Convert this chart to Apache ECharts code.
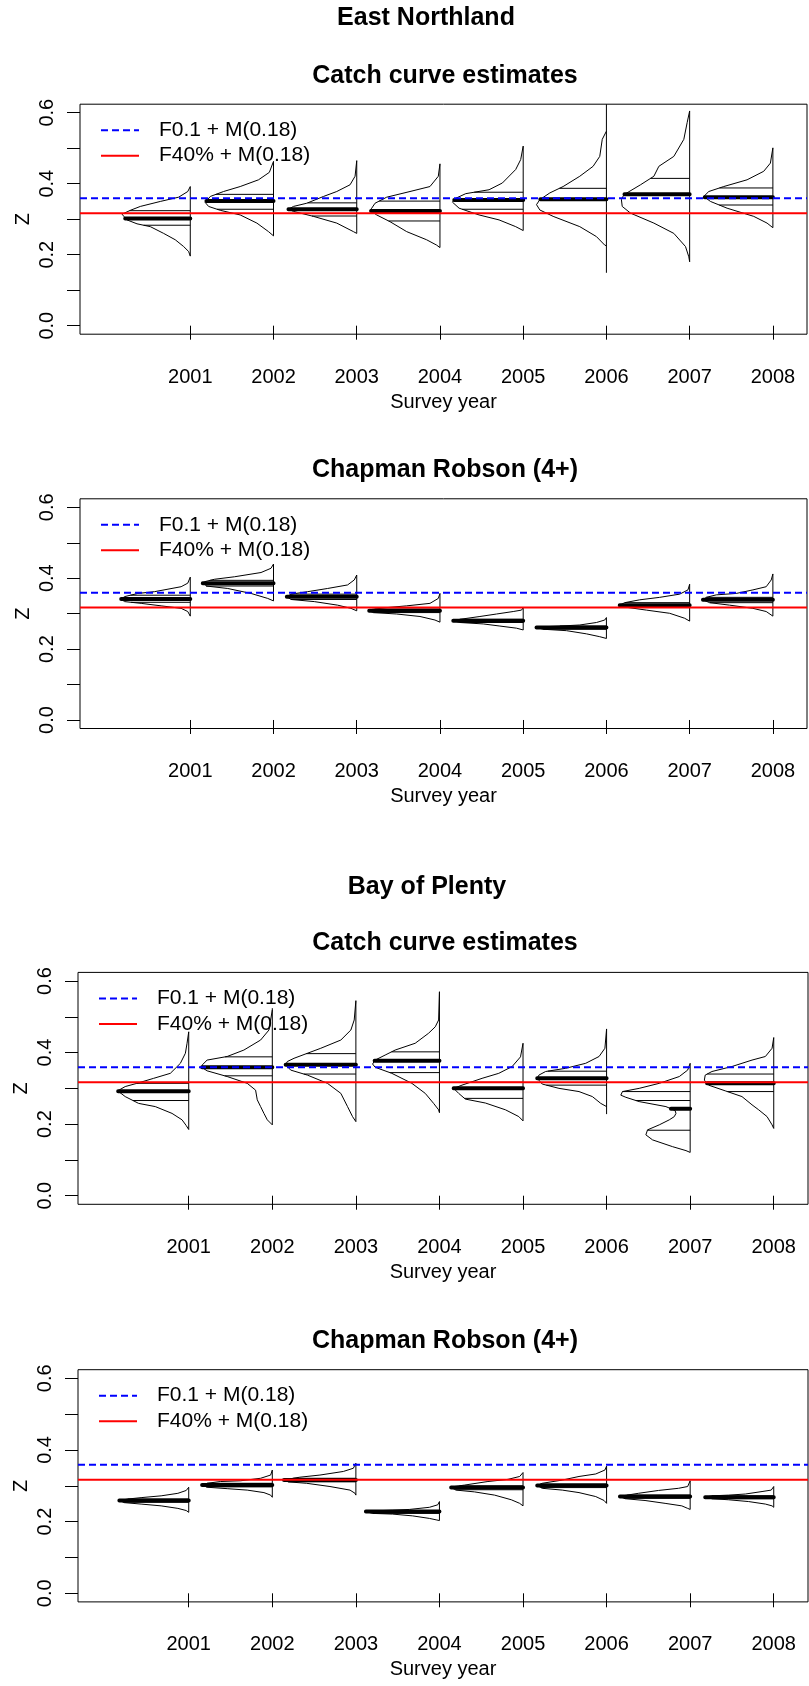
<!DOCTYPE html>
<html>
<head>
<meta charset="utf-8">
<script src="https://cdn.jsdelivr.net/npm/echarts@6.0.0/dist/echarts.min.js"></script>
<style>
  html, body { margin: 0; padding: 0; background: #fff; }
  #main { width: 809px; height: 1686px; }
</style>
</head>
<body>
<div id="main"></div>
<script>
// x categories and y ticks
const years = [2001, 2002, 2003, 2004, 2005, 2006, 2007, 2008];
const yTicks = [0, 0.1, 0.2, 0.3, 0.4, 0.5, 0.6];
const yLabels = [0, 0.2, 0.4, 0.6];

// reference levels
const refNames = ['F0.1 + M(0.18)', 'F40% + M(0.18)'];
const refValues = [0.359, 0.317];

// East Northland - catch curve: density outline (z, width in years), line range, median, other quantiles
const enCatchZ = [
  [0.392, 0.378, 0.362, 0.350, 0.336, 0.325, 0.314, 0.309, 0.298, 0.287, 0.279, 0.260, 0.242, 0.223, 0.209, 0.196],
  [0.463, 0.432, 0.411, 0.392, 0.378, 0.364, 0.347, 0.336, 0.325, 0.312, 0.289, 0.265, 0.253],
  [0.465, 0.421, 0.397, 0.378, 0.364, 0.345, 0.336, 0.328, 0.322, 0.308, 0.289, 0.265, 0.260],
  [0.456, 0.421, 0.392, 0.378, 0.362, 0.345, 0.331, 0.325, 0.312, 0.293, 0.265, 0.242, 0.227, 0.220],
  [0.506, 0.468, 0.440, 0.402, 0.383, 0.372, 0.359, 0.348, 0.331, 0.312, 0.298, 0.279, 0.268],
  [0.548, 0.525, 0.477, 0.449, 0.421, 0.392, 0.374, 0.355, 0.341, 0.326, 0.308, 0.279, 0.251, 0.227, 0.225],
  [0.605, 0.572, 0.525, 0.477, 0.449, 0.421, 0.397, 0.369, 0.355, 0.336, 0.317, 0.289, 0.260, 0.223, 0.194, 0.180],
  [0.501, 0.458, 0.435, 0.411, 0.392, 0.378, 0.364, 0.350, 0.331, 0.308, 0.289, 0.276]
];
const enCatchW = [
  [0, 0.03, 0.14, 0.36, 0.60, 0.72, 0.82, 0.82, 0.76, 0.64, 0.48, 0.32, 0.18, 0.08, 0.02, 0],
  [0, 0.05, 0.18, 0.40, 0.60, 0.76, 0.82, 0.78, 0.64, 0.40, 0.20, 0.06, 0],
  [0, 0.02, 0.08, 0.24, 0.40, 0.60, 0.76, 0.82, 0.76, 0.52, 0.24, 0.04, 0],
  [0, 0.02, 0.12, 0.36, 0.64, 0.78, 0.82, 0.84, 0.76, 0.60, 0.40, 0.16, 0.04, 0],
  [0, 0.03, 0.09, 0.25, 0.41, 0.69, 0.81, 0.85, 0.77, 0.53, 0.29, 0.09, 0],
  [0, 0.05, 0.08, 0.16, 0.32, 0.52, 0.68, 0.80, 0.84, 0.80, 0.64, 0.32, 0.12, 0.02, 0],
  [0, 0.03, 0.07, 0.19, 0.37, 0.43, 0.59, 0.79, 0.82, 0.81, 0.71, 0.43, 0.19, 0.05, 0.01, 0],
  [0, 0.03, 0.11, 0.31, 0.59, 0.77, 0.83, 0.75, 0.55, 0.23, 0.07, 0]
];
const enCatchRange = [[0.196, 0.392], [0.253, 0.463], [0.260, 0.465], [0.220, 0.456], [0.268, 0.506], [0.149, 0.624], [0.180, 0.605], [0.276, 0.501]];
const enCatchMedian = [0.302, 0.351, 0.328, 0.323, 0.354, 0.356, 0.370, 0.362];
const enCatchQuant = [[0.324, 0.283], [0.370, 0.328], [0.346, 0.309], [0.351, 0.295], [0.376, 0.328], [0.387, 0.317], [0.415], [0.388, 0.340]];

// East Northland - Chapman Robson
const enChapZ = [
  [0.403, 0.386, 0.376, 0.362, 0.357, 0.348, 0.341, 0.334, 0.329, 0.322, 0.315, 0.306, 0.293],
  [0.440, 0.428, 0.416, 0.404, 0.397, 0.390, 0.386, 0.378, 0.371, 0.357, 0.343, 0.336],
  [0.409, 0.395, 0.381, 0.371, 0.362, 0.355, 0.348, 0.340, 0.334, 0.324, 0.315, 0.308],
  [0.357, 0.343, 0.329, 0.322, 0.317, 0.312, 0.308, 0.303, 0.299, 0.292, 0.282, 0.276],
  [0.317, 0.310, 0.306, 0.299, 0.292, 0.284, 0.280, 0.275, 0.271, 0.265, 0.259, 0.254],
  [0.289, 0.282, 0.275, 0.268, 0.265, 0.263, 0.261, 0.256, 0.252, 0.243, 0.235, 0.230],
  [0.383, 0.367, 0.355, 0.346, 0.339, 0.331, 0.324, 0.318, 0.310, 0.301, 0.287, 0.279],
  [0.412, 0.395, 0.376, 0.367, 0.357, 0.353, 0.346, 0.339, 0.331, 0.324, 0.315, 0.306, 0.293]
];
const enChapW = [
  [0, 0.03, 0.11, 0.43, 0.63, 0.79, 0.83, 0.79, 0.59, 0.35, 0.11, 0.03, 0],
  [0, 0.03, 0.15, 0.47, 0.71, 0.83, 0.85, 0.81, 0.55, 0.27, 0.07, 0],
  [0, 0.03, 0.11, 0.35, 0.59, 0.79, 0.84, 0.79, 0.51, 0.23, 0.07, 0],
  [0, 0.02, 0.12, 0.40, 0.64, 0.82, 0.85, 0.80, 0.52, 0.24, 0.06, 0],
  [0, 0.02, 0.12, 0.32, 0.52, 0.76, 0.84, 0.76, 0.48, 0.28, 0.08, 0],
  [0, 0.02, 0.12, 0.32, 0.56, 0.76, 0.84, 0.76, 0.48, 0.24, 0.08, 0],
  [0, 0.02, 0.12, 0.36, 0.60, 0.78, 0.84, 0.76, 0.52, 0.24, 0.06, 0],
  [0, 0.02, 0.08, 0.24, 0.44, 0.68, 0.80, 0.84, 0.76, 0.52, 0.24, 0.08, 0]
];
const enChapRange = [[0.293, 0.403], [0.336, 0.440], [0.308, 0.409], [0.276, 0.357], [0.254, 0.317], [0.230, 0.289], [0.279, 0.383], [0.293, 0.412]];
const enChapMedian = [0.341, 0.386, 0.348, 0.308, 0.280, 0.261, 0.324, 0.339];
const enChapQuant = [[0.352, 0.332], [0.394, 0.378], [0.355, 0.340], [0.313, 0.303], [0.284, 0.275], [0.265, 0.256], [0.331, 0.318], [0.346, 0.331]];

// Bay of Plenty - catch curve
const bopCatchZ = [
  [0.458, 0.426, 0.398, 0.370, 0.342, 0.328, 0.314, 0.305, 0.293, 0.277, 0.258, 0.249, 0.230, 0.212, 0.196, 0.185],
  [0.519, 0.463, 0.435, 0.407, 0.389, 0.379, 0.365, 0.358, 0.349, 0.333, 0.314, 0.295, 0.268, 0.249, 0.230, 0.212, 0.198],
  [0.545, 0.491, 0.463, 0.435, 0.412, 0.398, 0.384, 0.375, 0.366, 0.351, 0.337, 0.314, 0.286, 0.249, 0.221, 0.207],
  [0.570, 0.491, 0.472, 0.454, 0.426, 0.407, 0.393, 0.379, 0.368, 0.359, 0.342, 0.314, 0.286, 0.258, 0.240, 0.232],
  [0.426, 0.388, 0.361, 0.342, 0.328, 0.309, 0.300, 0.286, 0.270, 0.259, 0.240, 0.221, 0.209],
  [0.466, 0.412, 0.389, 0.370, 0.356, 0.347, 0.337, 0.328, 0.312, 0.300, 0.291, 0.277, 0.258, 0.249],
  [0.370, 0.351, 0.333, 0.314, 0.300, 0.291, 0.281, 0.275, 0.263, 0.249, 0.238, 0.230, 0.221, 0.212, 0.198, 0.184, 0.170, 0.156, 0.137, 0.126, 0.121],
  [0.442, 0.412, 0.389, 0.379, 0.361, 0.347, 0.337, 0.323, 0.309, 0.293, 0.277, 0.254, 0.240, 0.221, 0.198, 0.188]
];
const bopCatchW = [
  [0, 0.02, 0.04, 0.10, 0.22, 0.42, 0.62, 0.76, 0.85, 0.76, 0.60, 0.40, 0.20, 0.08, 0.03, 0],
  [0, 0.04, 0.14, 0.34, 0.54, 0.78, 0.84, 0.84, 0.78, 0.54, 0.30, 0.20, 0.18, 0.14, 0.10, 0.06, 0],
  [0, 0.02, 0.06, 0.18, 0.42, 0.58, 0.74, 0.82, 0.84, 0.78, 0.58, 0.34, 0.18, 0.10, 0.04, 0],
  [0, 0.01, 0.05, 0.13, 0.29, 0.53, 0.65, 0.77, 0.80, 0.77, 0.57, 0.33, 0.17, 0.07, 0.01, 0],
  [0, 0.03, 0.13, 0.29, 0.49, 0.73, 0.83, 0.77, 0.69, 0.45, 0.21, 0.05, 0],
  [0, 0.02, 0.09, 0.25, 0.49, 0.73, 0.81, 0.83, 0.77, 0.57, 0.33, 0.17, 0.07, 0],
  [0, 0.03, 0.13, 0.37, 0.61, 0.81, 0.83, 0.77, 0.61, 0.29, 0.18, 0.17, 0.19, 0.25, 0.37, 0.51, 0.53, 0.45, 0.21, 0.05, 0],
  [0, 0.02, 0.10, 0.26, 0.50, 0.74, 0.82, 0.83, 0.78, 0.58, 0.38, 0.26, 0.18, 0.08, 0.02, 0]
];
const bopCatchRange = [[0.185, 0.458], [0.198, 0.524], [0.207, 0.545], [0.232, 0.570], [0.209, 0.426], [0.228, 0.466], [0.121, 0.370], [0.188, 0.442]];
const bopCatchMedian = [0.292, 0.359, 0.366, 0.377, 0.300, 0.328, 0.243, 0.314];
const bopCatchQuant = [[0.314, 0.266], [0.388, 0.335], [0.397, 0.340], [0.402, 0.344], [0.317, 0.272], [0.348, 0.309], [0.291, 0.266, 0.183], [0.340, 0.291]];

// Bay of Plenty - Chapman Robson
const bopChapZ = [
  [0.296, 0.287, 0.279, 0.272, 0.267, 0.263, 0.259, 0.253, 0.249, 0.244, 0.237, 0.231, 0.226],
  [0.344, 0.330, 0.321, 0.314, 0.312, 0.307, 0.302, 0.296, 0.292, 0.288, 0.281, 0.274, 0.268],
  [0.363, 0.349, 0.340, 0.330, 0.324, 0.318, 0.316, 0.311, 0.307, 0.298, 0.288, 0.279, 0.274],
  [0.256, 0.247, 0.240, 0.234, 0.232, 0.230, 0.228, 0.223, 0.221, 0.216, 0.209, 0.205, 0.203],
  [0.337, 0.326, 0.318, 0.312, 0.302, 0.298, 0.295, 0.288, 0.283, 0.274, 0.261, 0.251, 0.244],
  [0.355, 0.344, 0.333, 0.326, 0.316, 0.307, 0.301, 0.293, 0.288, 0.281, 0.270, 0.259, 0.251],
  [0.314, 0.298, 0.293, 0.287, 0.279, 0.273, 0.270, 0.264, 0.259, 0.251, 0.244, 0.237, 0.234],
  [0.298, 0.288, 0.284, 0.277, 0.274, 0.272, 0.268, 0.264, 0.261, 0.256, 0.249, 0.244, 0.240]
];
const bopChapW = [
  [0, 0.03, 0.13, 0.33, 0.57, 0.73, 0.83, 0.77, 0.57, 0.33, 0.13, 0.03, 0],
  [0, 0.02, 0.14, 0.38, 0.62, 0.78, 0.84, 0.78, 0.54, 0.30, 0.10, 0.02, 0],
  [0, 0.03, 0.15, 0.43, 0.67, 0.83, 0.86, 0.81, 0.59, 0.31, 0.07, 0.01, 0],
  [0, 0.02, 0.12, 0.36, 0.56, 0.80, 0.88, 0.80, 0.56, 0.32, 0.12, 0.04, 0],
  [0, 0.04, 0.18, 0.42, 0.70, 0.82, 0.86, 0.80, 0.58, 0.34, 0.14, 0.04, 0],
  [0, 0.02, 0.13, 0.33, 0.53, 0.77, 0.83, 0.77, 0.53, 0.33, 0.13, 0.03, 0],
  [0, 0.03, 0.14, 0.38, 0.62, 0.78, 0.84, 0.78, 0.54, 0.30, 0.10, 0.03, 0],
  [0, 0.03, 0.14, 0.34, 0.54, 0.74, 0.82, 0.74, 0.54, 0.30, 0.10, 0.02, 0]
];
const bopChapRange = [[0.226, 0.296], [0.268, 0.344], [0.274, 0.363], [0.203, 0.256], [0.244, 0.337], [0.251, 0.355], [0.234, 0.314], [0.240, 0.298]];
const bopChapMedian = [0.259, 0.302, 0.316, 0.228, 0.295, 0.301, 0.270, 0.268];
const bopChapQuant = [[0.263, 0.254], [0.307, 0.297], [0.321, 0.311], [0.230, 0.223], [0.300, 0.289], [0.305, 0.295], [0.274, 0.265], [0.272, 0.264]];

// axis extent (R style 4% padding)
const X_MIN = 1999.675, X_MAX = 2008.41;
const Y_MIN = -0.024, Y_MAX = 0.624;

const FONT = "'Liberation Sans', Arial, sans-serif";

// panel layout
const panels = [
  { z: enCatchZ, w: enCatchW, range: enCatchRange, med: enCatchMedian, quant: enCatchQuant,
    title: 'Catch curve estimates', titleTop: 63.5, left: 80, top: 104.2, width: 727, height: 230 },
  { z: enChapZ, w: enChapW, range: enChapRange, med: enChapMedian, quant: enChapQuant,
    title: 'Chapman Robson (4+)', titleTop: 457.5, left: 80, top: 498.8, width: 727, height: 229.7 },
  { z: bopCatchZ, w: bopCatchW, range: bopCatchRange, med: bopCatchMedian, quant: bopCatchQuant,
    title: 'Catch curve estimates', titleTop: 930.8, left: 78, top: 972.4, width: 730, height: 231.9 },
  { z: bopChapZ, w: bopChapW, range: bopChapRange, med: bopChapMedian, quant: bopChapQuant,
    title: 'Chapman Robson (4+)', titleTop: 1328.2, left: 78, top: 1369.7, width: 730, height: 232.2 }
];

// width of a density outline at level q (to end the quantile lines on the curve)
function widthAt(zs, ws, q) {
  for (let i = 0; i < zs.length - 1; i++) {
    if (q <= zs[i] && q >= zs[i + 1]) {
      const t = zs[i] === zs[i + 1] ? 0 : (zs[i] - q) / (zs[i] - zs[i + 1]);
      return ws[i] + t * (ws[i + 1] - ws[i]);
    }
  }
  return 0;
}

function outlineData(p) {
  const out = [];
  years.forEach((yr, i) => {
    p.z[i].forEach((z, j) => out.push([yr - p.w[i][j], z]));
    out.push([yr, '-']);
    out.push([yr, p.range[i][0]], [yr, p.range[i][1]]);
    out.push([yr, '-']);
  });
  return out;
}

function segmentData(p, levelsFor) {
  const out = [];
  years.forEach((yr, i) => {
    levelsFor(i).forEach(q => {
      out.push([yr, q], [yr - widthAt(p.z[i], p.w[i], q), q], [yr, '-']);
    });
  });
  return out;
}

const chart = echarts.init(document.getElementById('main'));

const titles = [
  { text: 'East Northland', left: 426, top: 5.8 },
  { text: 'Bay of Plenty', left: 427, top: 874.2 }
];
const grids = [], xAxes = [], yAxes = [], legends = [], series = [];

panels.forEach((p, k) => {
  titles.push({ text: p.title, left: 445, top: p.titleTop });
  grids.push({
    left: p.left, top: p.top, width: p.width, height: p.height,
    show: true, borderColor: '#000', borderWidth: 1, backgroundColor: '#fff',
    containLabel: false, outerBoundsMode: 'none'
  });
  xAxes.push({
    gridIndex: k, type: 'value', min: X_MIN, max: X_MAX,
    axisLine: { show: false }, splitLine: { show: false },
    axisTick: { show: true, customValues: years, length: 14, lineStyle: { color: '#000' } },
    axisLabel: { customValues: years, margin: 33, fontSize: 20, lineHeight: 20, color: '#000',
      fontFamily: FONT, formatter: v => String(v) },
    name: 'Survey year', nameLocation: 'middle', nameGap: 58,
    nameTextStyle: { fontSize: 20, lineHeight: 20, color: '#000', fontFamily: FONT }
  });
  yAxes.push({
    gridIndex: k, type: 'value', min: Y_MIN, max: Y_MAX,
    axisLine: { show: false }, splitLine: { show: false },
    axisTick: { show: true, customValues: yTicks, length: 13, lineStyle: { color: '#000' } },
    axisLabel: { customValues: yLabels, rotate: 90, margin: 23, fontSize: 20, lineHeight: 20, color: '#000',
      fontFamily: FONT, formatter: v => v.toFixed(1) },
    name: 'Z', nameLocation: 'middle', nameRotate: 90, nameGap: 47, nameMoveOverlap: false,
    nameTextStyle: { fontSize: 20, lineHeight: 20, color: '#000', fontFamily: FONT }
  });
  legends.push({
    data: refNames, orient: 'vertical', left: p.left + 20, top: p.top + 15.5,
    itemWidth: 38, itemHeight: 14, itemGap: 4.5, padding: 0, selectedMode: false,
    itemStyle: { opacity: 0 },
    textStyle: { fontSize: 21, lineHeight: 21, color: '#000', fontFamily: FONT, padding: [0, 0, 0, 15] }
  });

  const base = { type: 'line', xAxisIndex: k, yAxisIndex: k, symbol: 'none', silent: true, connectNulls: false };
  series.push(Object.assign({}, base, {
    data: outlineData(p), lineStyle: { color: '#000', width: 1 }, z: 2
  }));
  series.push(Object.assign({}, base, {
    data: segmentData(p, i => p.quant[i]), lineStyle: { color: '#000', width: 1 }, z: 3
  }));
  series.push(Object.assign({}, base, {
    data: segmentData(p, i => [p.med[i]]), lineStyle: { color: '#000', width: 4, cap: 'round' }, z: 4
  }));
  series.push(Object.assign({}, base, {
    name: refNames[0], data: [[X_MIN, refValues[0]], [X_MAX, refValues[0]]],
    lineStyle: { color: '#0000ff', width: 2, type: [7, 4] }, itemStyle: { color: '#0000ff' }, z: 5
  }));
  series.push(Object.assign({}, base, {
    name: refNames[1], data: [[X_MIN, refValues[1]], [X_MAX, refValues[1]]],
    lineStyle: { color: '#ff0000', width: 2 }, itemStyle: { color: '#ff0000' }, z: 5
  }));
});

const option = {
  backgroundColor: '#fff',
  animation: false,
  title: titles.map(t => Object.assign({
    textAlign: 'center', padding: 0,
    textStyle: { fontSize: 25, lineHeight: 25, fontWeight: 'bold', color: '#000', fontFamily: FONT }
  }, t)),
  grid: grids,
  xAxis: xAxes,
  yAxis: yAxes,
  legend: legends,
  series: series
};

chart.setOption(option);
</script>
</body>
</html>
